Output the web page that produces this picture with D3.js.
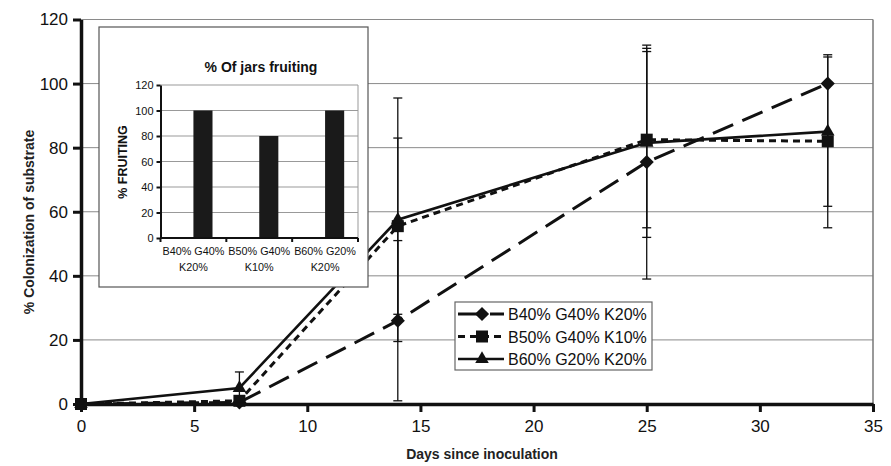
<!DOCTYPE html>
<html><head><meta charset="utf-8">
<script src="https://cdn.jsdelivr.net/npm/d3@7"></script>
<style>
body{margin:0;background:#fff;}
svg{display:block;font-family:"Liberation Sans",Arial,sans-serif;}
</style></head>
<body><svg id="c" width="891" height="466"></svg>
<script>
// ---- data ----
const days = [0, 7, 14, 25, 33];
const seriesNames = ["B40% G40% K20%", "B50% G40% K10%", "B60% G20% K20%"];
const b40 = [0, 0.5, 26, 75.5, 100];
const b50 = [0, 1, 55.5, 82.5, 82];
const b60 = [0, 5, 57.5, 81.5, 85];
const b40Err = [0, 0, 25, 36.5, 0];
const b50Err = [0, 0, 27.5, 27.5, 27];
const b60Err = [0, 5, 38, 29.5, 23.3];
const xTicks = [0, 5, 10, 15, 20, 25, 30, 35];
const yTicks = [0, 20, 40, 60, 80, 100, 120];

const insetCats = [["B40% G40%", "K20%"], ["B50% G40%", "K10%"], ["B60% G20%", "K20%"]];
const insetVals = [100, 80, 100];
const insetTicks = [0, 20, 40, 60, 80, 100, 120];

const svg = d3.select("#c");
const X0 = 81, X1 = 873, Y0 = 404, Y1 = 19.5;
const x = d3.scaleLinear().domain([0, 35]).range([X0, X1]);
const y = d3.scaleLinear().domain([0, 120]).range([Y0, Y1]);

// gridlines
svg.append("g").selectAll("line").data(yTicks.filter(d => d > 0)).join("line")
  .attr("x1", X0).attr("x2", X1).attr("y1", d => y(d)).attr("y2", d => y(d))
  .attr("stroke", "#8a8a8a").attr("stroke-width", 1);
// right border
svg.append("line").attr("x1", X1).attr("x2", X1).attr("y1", Y1).attr("y2", Y0)
  .attr("stroke", "#777").attr("stroke-width", 1.5);

const series = [
  {vals: b40, err: b40Err, dash: "22,10", width: 3, sym: "diamond"},
  {vals: b50, err: b50Err, dash: "7,5", width: 3, sym: "square"},
  {vals: b60, err: b60Err, dash: null, width: 2.6, sym: "triangle"}
];

// error bars
const eg = svg.append("g").attr("stroke", "#111").attr("stroke-width", 1.3);
series.forEach(s => {
  days.forEach((d, i) => {
    const e = s.err[i];
    if (!e) return;
    const cx = x(d), top = y(s.vals[i] + e), bot = y(Math.max(0, s.vals[i] - e));
    eg.append("line").attr("x1", cx).attr("x2", cx).attr("y1", top).attr("y2", bot);
    eg.append("line").attr("x1", cx - 4.5).attr("x2", cx + 4.5).attr("y1", top).attr("y2", top);
    eg.append("line").attr("x1", cx - 4.5).attr("x2", cx + 4.5).attr("y1", bot).attr("y2", bot);
  });
});

const line = d3.line().x((d, i) => x(days[i])).y(d => y(d));
function symPath(sym) {
  if (sym === "diamond") return d3.symbol(d3.symbolSquare, 100)();
  if (sym === "square") return d3.symbol(d3.symbolSquare, 144)();
  return d3.symbol(d3.symbolTriangle, 80)();
}
series.forEach(s => {
  svg.append("path").attr("d", line(s.vals)).attr("fill", "none")
    .attr("stroke", "#111").attr("stroke-width", s.width)
    .attr("stroke-dasharray", s.dash);
});
series.forEach(s => {
  svg.append("g").selectAll("path").data(s.vals).join("path")
    .attr("d", symPath(s.sym))
    .attr("transform", (d, i) => `translate(${x(days[i])},${y(d)})` + (s.sym === "diamond" ? " rotate(45)" : ""))
    .attr("fill", "#111");
});

// axes
const ax = svg.append("g").attr("transform", `translate(0,${Y0})`)
  .call(d3.axisBottom(x).tickValues(xTicks).tickSize(8).tickSizeOuter(0).tickPadding(8));
ax.select(".domain").attr("stroke", "#111").attr("stroke-width", 3.5);
ax.selectAll(".tick line").attr("stroke", "#111").attr("stroke-width", 3);
ax.selectAll(".tick text").attr("font-size", 17).attr("fill", "#111")
  .attr("font-family", "Liberation Sans, Arial, sans-serif");

const ay = svg.append("g").attr("transform", `translate(${X0},0)`)
  .call(d3.axisLeft(y).tickValues(yTicks).tickSize(8).tickSizeOuter(0).tickPadding(5));
ay.select(".domain").attr("stroke", "#111").attr("stroke-width", 3.5);
ay.selectAll(".tick line").attr("stroke", "#111").attr("stroke-width", 3);
ay.selectAll(".tick text").attr("font-size", 17).attr("fill", "#111")
  .attr("font-family", "Liberation Sans, Arial, sans-serif");

svg.append("text").attr("x", 482).attr("y", 459).attr("text-anchor", "middle")
  .attr("font-size", 14).attr("font-weight", "bold").attr("fill", "#222")
  .text("Days since inoculation");
svg.append("text").attr("transform", "translate(34,222) rotate(-90)").attr("text-anchor", "middle")
  .attr("font-size", 14).attr("font-weight", "bold").attr("fill", "#222")
  .text("% Colonization of substrate");

// ---- inset ----
const ig = svg.append("g");
ig.append("rect").attr("x", 99).attr("y", 27).attr("width", 269).attr("height", 260)
  .attr("fill", "#fff").attr("stroke", "#555").attr("stroke-width", 1.2);
ig.append("text").attr("x", 261).attr("y", 72).attr("text-anchor", "middle")
  .attr("font-size", 14).attr("font-weight", "bold").attr("fill", "#111").text("% Of jars fruiting");
const IX0 = 160.5, IX1 = 358, IY0 = 238, IY1 = 85;
const ix = d3.scaleBand().domain(d3.range(insetCats.length)).range([IX0, IX1]);
const iy = d3.scaleLinear().domain([0, 120]).range([IY0, IY1]);
ig.append("g").selectAll("line").data(insetTicks.filter(d => d > 0)).join("line")
  .attr("x1", IX0).attr("x2", IX1).attr("y1", d => iy(d)).attr("y2", d => iy(d))
  .attr("stroke", "#999").attr("stroke-width", 1);
ig.append("line").attr("x1", IX1).attr("x2", IX1).attr("y1", IY1).attr("y2", IY0)
  .attr("stroke", "#999").attr("stroke-width", 1);
ig.append("g").selectAll("rect").data(insetVals).join("rect")
  .attr("x", (d, i) => ix(i) + ix.bandwidth() * 0.5)
  .attr("width", ix.bandwidth() * 0.29)
  .attr("y", d => iy(d)).attr("height", d => IY0 - iy(d))
  .attr("fill", "#1a1a1a");
const iay = ig.append("g").attr("transform", `translate(${IX0},0)`)
  .call(d3.axisLeft(iy).tickValues(insetTicks).tickSize(4).tickSizeOuter(0).tickPadding(3));
iay.select(".domain").attr("stroke", "#111").attr("stroke-width", 2);
iay.selectAll(".tick line").attr("stroke", "#111").attr("stroke-width", 2);
iay.selectAll(".tick text").attr("font-size", 11).attr("fill", "#111")
  .attr("font-family", "Liberation Sans, Arial, sans-serif");
const bounds = d3.range(insetCats.length + 1).map(i => IX0 + i * ix.bandwidth());
ig.append("line").attr("x1", IX0).attr("x2", IX1).attr("y1", IY0).attr("y2", IY0)
  .attr("stroke", "#111").attr("stroke-width", 2);
ig.append("g").selectAll("line").data(bounds).join("line")
  .attr("x1", d => d).attr("x2", d => d).attr("y1", IY0).attr("y2", IY0 + 4)
  .attr("stroke", "#111").attr("stroke-width", 2);
insetCats.forEach((c, i) => {
  const t = ig.append("text").attr("text-anchor", "middle").attr("font-size", 10.8).attr("fill", "#111");
  c.forEach((ln, j) => t.append("tspan").attr("x", ix(i) + ix.bandwidth() / 2).attr("y", 255 + j * 15.5).text(ln));
});
ig.append("text").attr("transform", "translate(127,162) rotate(-90)").attr("text-anchor", "middle")
  .attr("font-size", 12.5).attr("font-weight", "bold").attr("fill", "#111").text("% FRUITING");

// ---- legend ----
const lg = svg.append("g");
lg.append("rect").attr("x", 455).attr("y", 302).attr("width", 197).attr("height", 68)
  .attr("fill", "#fff").attr("stroke", "#666").attr("stroke-width", 1.2);
series.forEach((s, i) => {
  const cy = 314 + i * 22.5;
  lg.append("line").attr("x1", 458).attr("x2", 504).attr("y1", cy).attr("y2", cy)
    .attr("stroke", "#111").attr("stroke-width", s.width).attr("stroke-dasharray", s.dash);
  lg.append("path").attr("d", symPath(s.sym))
    .attr("transform", `translate(482,${cy})` + (s.sym === "diamond" ? " rotate(45)" : ""))
    .attr("fill", "#111");
  lg.append("text").attr("x", 508).attr("y", cy + 6).attr("font-size", 16).attr("fill", "#111")
    .text(seriesNames[i]);
});
</script></body></html>
